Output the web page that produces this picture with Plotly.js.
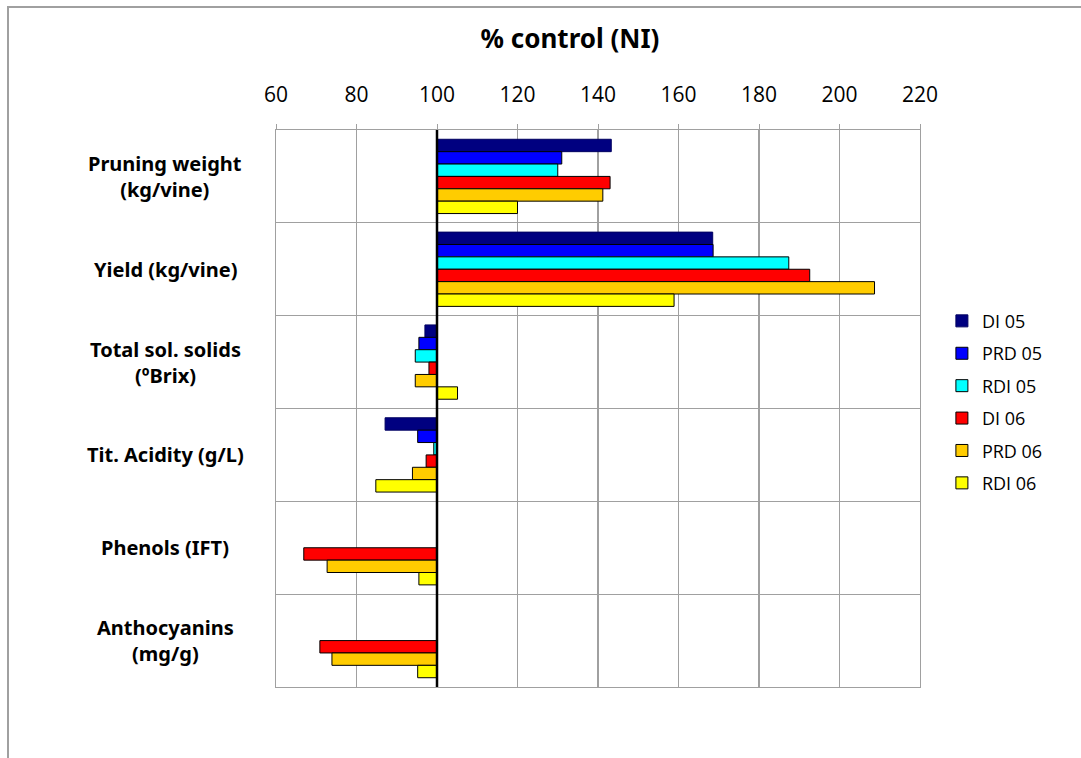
<!DOCTYPE html>
<html>
<head>
<meta charset="utf-8">
<script src="https://cdn.plot.ly/plotly-3.0.1.min.js"></script>
<style>
html,body{margin:0;padding:0;background:#fff;}
#chart{width:1081px;height:758px;position:absolute;left:0;top:0;}
#frame{position:absolute;left:7px;top:6px;width:1200px;height:900px;border-top:2px solid #a0a0a0;border-left:2px solid #a0a0a0;pointer-events:none;}
</style>
</head>
<body>
<div id="chart"></div>
<div id="frame"></div>
<script>
const categories = ['Pruning weight<br>(kg/vine)', 'Yield (kg/vine)', 'Total sol. solids<br>(ºBrix)', 'Tit. Acidity (g/L)', 'Phenols (IFT)', 'Anthocyanins<br>(mg/g)'];
const seriesNames = ['DI 05', 'PRD 05', 'RDI 05', 'DI 06', 'PRD 06', 'RDI 06'];
const seriesColors = ['#000080', '#0000FF', '#00FFFF', '#FF0000', '#FFCC00', '#FFFF00'];
const DI05  = [143.3, 168.5, 97.0, 87.1, null, null];
const PRD05 = [131.0, 168.6, 95.5, 95.2, null, null];
const RDI05 = [130.0, 187.4, 94.6, 99.2, null, null];
const DI06  = [143.0, 192.6, 98.0, 97.3, 66.9, 70.9];
const PRD06 = [141.2, 208.7, 94.6, 93.9, 72.7, 73.9];
const RDI06 = [120.0, 158.9, 105.1, 84.8, 95.5, 95.2];
const xTicks = [60, 80, 100, 120, 140, 160, 180, 200, 220];
const baseline = 100;

const seriesValues = [DI05, PRD05, RDI05, DI06, PRD06, RDI06];
const traces = seriesValues.map((vals, i) => ({
  type: 'bar',
  orientation: 'h',
  name: seriesNames[i],
  legendgroup: 'g' + i,
  y: categories,
  x: vals.map(v => v == null ? null : v - baseline),
  base: baseline,
  marker: {color: seriesColors[i], line: {color: i === 0 ? '#000060' : '#000000', width: 1}},
  hoverinfo: 'skip'
}));

const annotations = categories.map(c => ({
  xref: 'paper', yref: 'y', x: -0.172, y: c,
  text: '<b>' + c + '</b>', showarrow: false,
  xanchor: 'center', yanchor: 'middle', align: 'center',
  font: {family: 'Noto Sans, Open Sans, sans-serif', size: 20, color: '#000'}
}));

const layout = {
  width: 1081, height: 758,
  margin: {l: 276, r: 161, t: 130, b: 71, pad: 0},
  paper_bgcolor: '#fff', plot_bgcolor: '#fff',
  title: {text: '<b>% control (NI)</b>', x: 570/1081, xref: 'container', xanchor: 'center',
          y: 1 - 39/758, yref: 'container', yanchor: 'middle',
          font: {family: 'Noto Sans, Open Sans, sans-serif', size: 26, color: '#000'}},
  barmode: 'group', bargap: 0.2, bargroupgap: 0,
  showlegend: true,
  legend: {x: 1.034, xanchor: 'left', y: 0.69, yanchor: 'top',
           font: {family: 'Open Sans, sans-serif', size: 18, color: '#000'},
           tracegroupgap: 6, bgcolor: 'rgba(0,0,0,0)', itemwidth: 30},
  xaxis: {side: 'top', range: [xTicks[0], xTicks[xTicks.length-1]], tickvals: xTicks,
          ticktext: xTicks.map(String), ticks: 'outside', ticklen: 5, tickcolor: '#a0a0a0',
          ticklabelstandoff: 13,
          showgrid: true, gridcolor: '#a0a0a0', gridwidth: 1.3, zeroline: false,
          showline: true, mirror: true, linecolor: '#a0a0a0', linewidth: 1.3,
          tickfont: {family: 'Open Sans, sans-serif', size: 21, color: '#000'}, fixedrange: true},
  yaxis: {type: 'category', autorange: 'reversed', showticklabels: false, ticks: '',
          tickson: 'boundaries', showgrid: true, gridcolor: '#a0a0a0', gridwidth: 1.3,
          showline: true, mirror: true, linecolor: '#a0a0a0', linewidth: 1.3, zeroline: false, fixedrange: true},
  shapes: [{type: 'line', xref: 'x', yref: 'paper', x0: baseline, x1: baseline, y0: 0, y1: 1,
            line: {color: '#000', width: 2.5}, layer: 'above'}],
  annotations: annotations
};

Plotly.newPlot('chart', traces, layout, {displayModeBar: false, staticPlot: true});
</script>
</body>
</html>
